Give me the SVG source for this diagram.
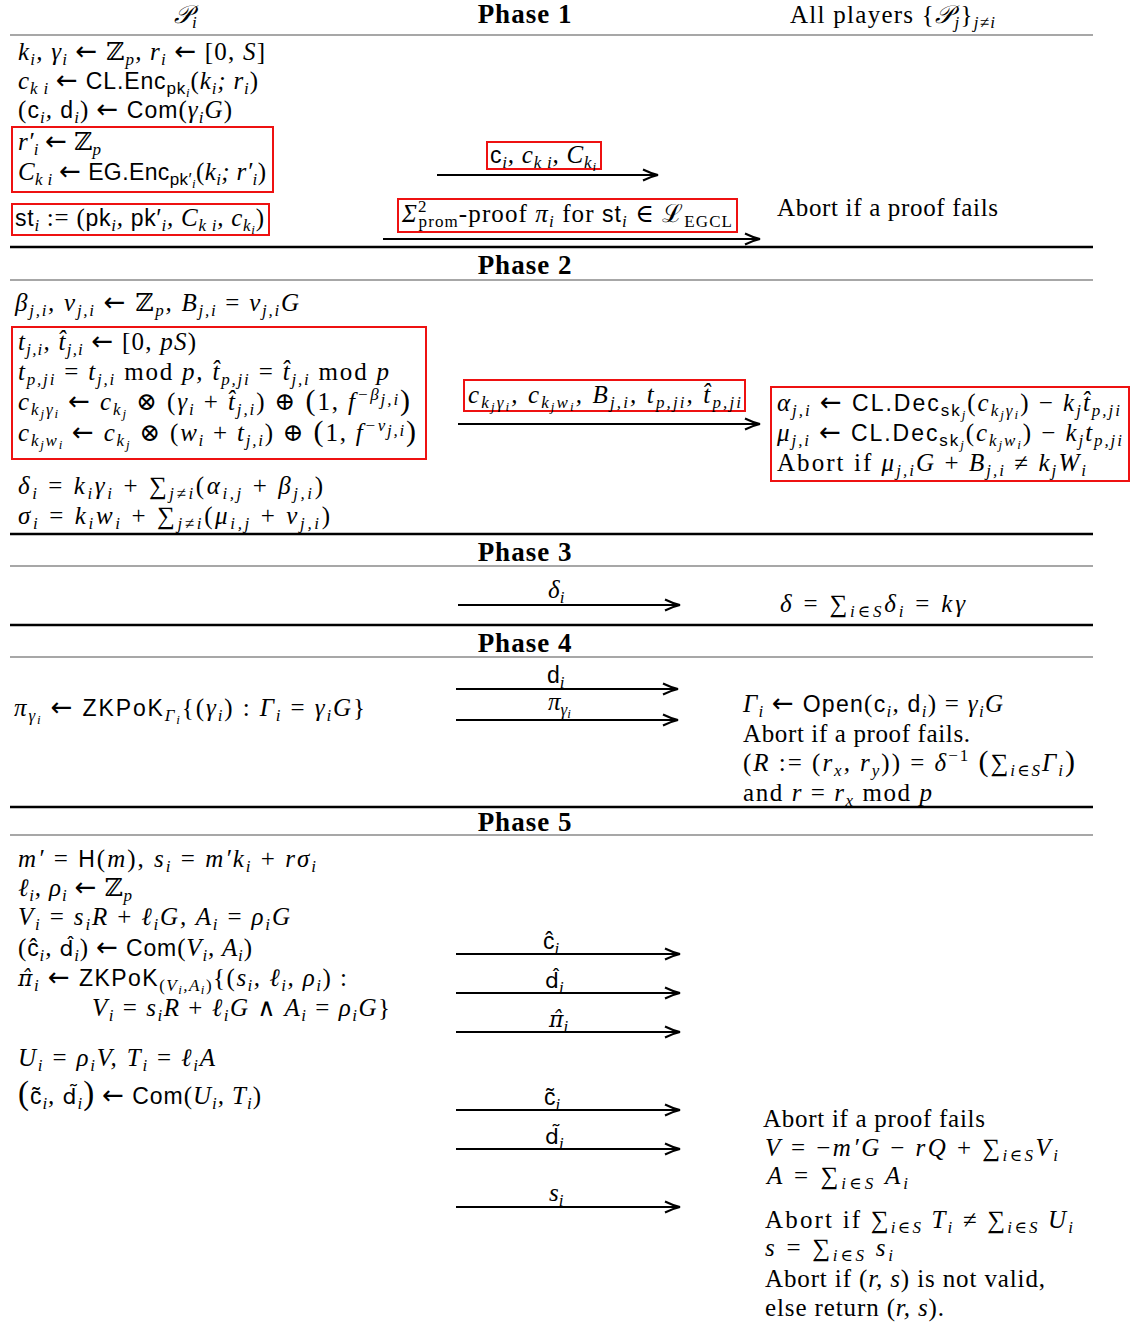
<svg xmlns="http://www.w3.org/2000/svg" width="1144" height="1324" viewBox="0 0 1144 1324">
<style>
text { font-family: "Liberation Serif", "DejaVu Serif", serif; font-size: 25px; font-style: italic; fill: #000; }
.up { font-style: normal; }
.sf { font-family: "Liberation Sans", "DejaVu Sans", sans-serif; font-style: normal; }
.S { font-size: 23px; }
.dj { font-family: "DejaVu Sans", sans-serif; font-style: normal; font-size: 22px; }
.djs { font-family: "DejaVu Serif", serif; font-style: italic; font-size: 22px; }
.b { font-size: 17px; baseline-shift: -5px; }
.b .b { font-size: 13px; baseline-shift: -3px; }
.p { font-size: 17px; baseline-shift: 10px; }
.ar { font-family: "DejaVu Sans", sans-serif; font-style: normal; font-size: 26px; }
.hd { font-style: normal; font-weight: bold; font-size: 27px; text-anchor: middle; letter-spacing: 1px; }
.big { font-size: 30px; font-style: normal; }
.bg2 { font-size: 33px; font-style: normal; }
.red { fill: none; stroke: #ee1111; stroke-width: 2; }
.gray { stroke: #8a8a8a; stroke-width: 1.5; }
.blk { stroke: #000; stroke-width: 2.5; }
.arr { stroke: #000; stroke-width: 2; marker-end: url(#ah); }
</style>
<defs>
<marker id="ah" markerWidth="20" markerHeight="14" refX="18" refY="7" orient="auto" markerUnits="userSpaceOnUse">
<path d="M3,1.5 Q11,5.5 18,7 Q11,8.5 3,12.5" fill="none" stroke="#000" stroke-width="2"/>
</marker>
</defs>

<g id="rules">
<line class="gray" x1="10" y1="35" x2="1093" y2="35"/>
<line class="blk" x1="10" y1="247" x2="1093" y2="247"/>
<line class="gray" x1="10" y1="280" x2="1093" y2="280"/>
<line class="blk" x1="10" y1="534" x2="1093" y2="534"/>
<line class="gray" x1="10" y1="566" x2="1093" y2="566"/>
<line class="blk" x1="10" y1="625" x2="1093" y2="625"/>
<line class="gray" x1="10" y1="657" x2="1093" y2="657"/>
<line class="blk" x1="10" y1="807" x2="1093" y2="807"/>
<line class="gray" x1="10" y1="835" x2="1093" y2="835"/>
</g>

<g id="headers">
<text x="174" y="23">𝒫<tspan class="b">i</tspan></text>
<text class="hd" x="525" y="23">Phase 1</text>
<text x="790" y="23" textLength="205" lengthAdjust="spacing"><tspan class="up">All players {</tspan>𝒫<tspan class="b">j</tspan><tspan class="up">}</tspan><tspan class="b">j≠i</tspan></text>
<text class="hd" x="525" y="274">Phase 2</text>
<text class="hd" x="525" y="561">Phase 3</text>
<text class="hd" x="525" y="652">Phase 4</text>
<text class="hd" x="525" y="831">Phase 5</text>
</g>

<g id="connectors">
<line class="arr" x1="437" y1="175" x2="658" y2="175"/>
<line class="arr" x1="383" y1="239" x2="760" y2="239"/>
<line class="arr" x1="458" y1="424" x2="760" y2="424"/>
<line class="arr" x1="458" y1="605" x2="680" y2="605"/>
<line class="arr" x1="456" y1="689" x2="678" y2="689"/>
<line class="arr" x1="456" y1="720" x2="678" y2="720"/>
<line class="arr" x1="456" y1="954" x2="680" y2="954"/>
<line class="arr" x1="456" y1="993" x2="680" y2="993"/>
<line class="arr" x1="456" y1="1032" x2="680" y2="1032"/>
<line class="arr" x1="456" y1="1110" x2="680" y2="1110"/>
<line class="arr" x1="456" y1="1149" x2="680" y2="1149"/>
<line class="arr" x1="456" y1="1207" x2="680" y2="1207"/>
</g>

<g id="phase1-left">
<text x="18" y="60" textLength="247" lengthAdjust="spacing">k<tspan class="b">i</tspan>, γ<tspan class="b">i</tspan> <tspan class="ar">←</tspan> <tspan class="up">ℤ</tspan><tspan class="b">p</tspan>, r<tspan class="b">i</tspan> <tspan class="ar">←</tspan> <tspan class="up">[0,  </tspan> S<tspan class="up">]</tspan></text>
<text x="18" y="89" textLength="240" lengthAdjust="spacing">c<tspan class="b">k i</tspan> <tspan class="ar">←</tspan> <tspan class="sf S">CL.Enc</tspan><tspan class="b"><tspan class="sf">pk</tspan><tspan class="b">i</tspan></tspan><tspan class="up">(</tspan>k<tspan class="b">i</tspan>; r<tspan class="b">i</tspan><tspan class="up">)</tspan></text>
<text x="18" y="118" textLength="214" lengthAdjust="spacing"><tspan class="up">(</tspan><tspan class="sf S">c</tspan><tspan class="b">i</tspan>, <tspan class="sf S">d</tspan><tspan class="b">i</tspan><tspan class="up">)</tspan> <tspan class="ar">←</tspan> <tspan class="sf S">Com</tspan><tspan class="up">(</tspan>γ<tspan class="b">i</tspan>G<tspan class="up">)</tspan></text>
</g>
<g id="phase1-box1">
<rect class="red" x="12" y="127" width="261" height="65"/>
<text x="18" y="150" textLength="83" lengthAdjust="spacing">r′<tspan class="b">i</tspan> <tspan class="ar">←</tspan> <tspan class="up">ℤ</tspan><tspan class="b">p</tspan></text>
<text x="18" y="180" textLength="248" lengthAdjust="spacing">C<tspan class="b">k i</tspan> <tspan class="ar">←</tspan> <tspan class="sf S">EG.Enc</tspan><tspan class="b"><tspan class="sf">pk′</tspan><tspan class="b">i</tspan></tspan><tspan class="up">(</tspan>k<tspan class="b">i</tspan>; r′<tspan class="b">i</tspan><tspan class="up">)</tspan></text>
</g>
<g id="phase1-box2">
<rect class="red" x="12" y="204" width="257" height="31"/>
<text x="15" y="226" textLength="249" lengthAdjust="spacing"><tspan class="sf S">st</tspan><tspan class="b">i</tspan> <tspan class="up">:= (</tspan><tspan class="sf S">pk</tspan><tspan class="b">i</tspan>, <tspan class="sf S">pk′</tspan><tspan class="b">i</tspan>, C<tspan class="b">k i</tspan>, c<tspan class="b">k<tspan class="b">i</tspan></tspan><tspan class="up">)</tspan></text>
</g>
<g id="phase1-msg1">
<rect class="red" x="487" y="142" width="114" height="27"/>
<text x="490" y="163" textLength="106" lengthAdjust="spacing"><tspan class="sf S">c</tspan><tspan class="b">i</tspan>, c<tspan class="b">k i</tspan>, C<tspan class="b">k<tspan class="b">i</tspan></tspan></text>
</g>
<g id="phase1-msg2">
<rect class="red" x="398" y="199" width="339" height="33"/>
<text x="402" y="222" textLength="330" lengthAdjust="spacing">Σ<tspan class="p up">2</tspan><tspan class="b up" dx="-9">prom</tspan><tspan class="up">-proof </tspan>π<tspan class="b">i</tspan><tspan class="up"> for </tspan><tspan class="sf S">st</tspan><tspan class="b">i</tspan><tspan class="up"> ∈ ℒ</tspan><tspan class="b up">EGCL</tspan></text>
</g>
<g id="phase1-right">
<text class="up" x="777" y="216" textLength="221" lengthAdjust="spacing">Abort if a proof fails</text>
</g>

<g id="phase2-left">
<text x="15" y="311" textLength="284" lengthAdjust="spacing">β<tspan class="b">j,i</tspan>, v<tspan class="b">j,i</tspan> <tspan class="ar">←</tspan> <tspan class="up">ℤ</tspan><tspan class="b">p</tspan>, B<tspan class="b">j,i</tspan> <tspan class="up">=</tspan> v<tspan class="b">j,i</tspan>G</text>
<text x="18" y="494" textLength="305" lengthAdjust="spacing">δ<tspan class="b">i</tspan> <tspan class="up">=</tspan> k<tspan class="b">i</tspan>γ<tspan class="b">i</tspan> <tspan class="up">+ ∑</tspan><tspan class="b">j≠i</tspan><tspan class="up">(</tspan>α<tspan class="b">i,j</tspan> <tspan class="up">+</tspan> β<tspan class="b">j,i</tspan><tspan class="up">)</tspan></text>
<text x="18" y="524" textLength="312" lengthAdjust="spacing">σ<tspan class="b">i</tspan> <tspan class="up">=</tspan> k<tspan class="b">i</tspan>w<tspan class="b">i</tspan> <tspan class="up">+ ∑</tspan><tspan class="b">j≠i</tspan><tspan class="up">(</tspan>μ<tspan class="b">i,j</tspan> <tspan class="up">+</tspan> v<tspan class="b">j,i</tspan><tspan class="up">)</tspan></text>
</g>
<g id="phase2-box">
<rect class="red" x="12" y="327" width="414" height="132"/>
<text x="18" y="350" textLength="178" lengthAdjust="spacing">t<tspan class="b">j,i</tspan>, t̂<tspan class="b">j,i</tspan> <tspan class="ar">←</tspan> <tspan class="up">[0, </tspan>pS<tspan class="up">)</tspan></text>
<text x="18" y="380" textLength="371" lengthAdjust="spacing">t<tspan class="b">p,ji</tspan> <tspan class="up">=</tspan> t<tspan class="b">j,i</tspan> <tspan class="up">mod </tspan>p, t̂<tspan class="b">p,ji</tspan> <tspan class="up">=</tspan> t̂<tspan class="b">j,i</tspan> <tspan class="up">mod </tspan>p</text>
<text x="18" y="410" textLength="392" lengthAdjust="spacing">c<tspan class="b">k<tspan class="b">j</tspan>γ<tspan class="b">i</tspan></tspan> <tspan class="ar">←</tspan> c<tspan class="b">k<tspan class="b">j</tspan></tspan> <tspan class="up">⊗ (</tspan>γ<tspan class="b">i</tspan> <tspan class="up">+</tspan> t̂<tspan class="b">j,i</tspan><tspan class="up">) ⊕ </tspan><tspan class="big">(</tspan><tspan class="up">1, </tspan>f<tspan class="p">−β<tspan class="b">j,i</tspan></tspan><tspan class="big">)</tspan></text>
<text x="18" y="441" textLength="398" lengthAdjust="spacing">c<tspan class="b">k<tspan class="b">j</tspan>w<tspan class="b">i</tspan></tspan> <tspan class="ar">←</tspan> c<tspan class="b">k<tspan class="b">j</tspan></tspan> <tspan class="up">⊗ (</tspan>w<tspan class="b">i</tspan> <tspan class="up">+</tspan> t<tspan class="b">j,i</tspan><tspan class="up">) ⊕ </tspan><tspan class="big">(</tspan><tspan class="up">1, </tspan>f<tspan class="p">−v<tspan class="b">j,i</tspan></tspan><tspan class="big">)</tspan></text>
</g>
<g id="phase2-msg">
<rect class="red" x="464" y="380" width="281" height="31"/>
<text x="468" y="403" textLength="273" lengthAdjust="spacing">c<tspan class="b">k<tspan class="b">j</tspan>γ<tspan class="b">i</tspan></tspan>, c<tspan class="b">k<tspan class="b">j</tspan>w<tspan class="b">i</tspan></tspan>, B<tspan class="b">j,i</tspan>, t<tspan class="b">p,ji</tspan>, t̂<tspan class="b">p,ji</tspan></text>
</g>
<g id="phase2-right">
<rect class="red" x="771" y="387" width="358" height="94"/>
<text x="777" y="411" textLength="343" lengthAdjust="spacing">α<tspan class="b">j,i</tspan> <tspan class="ar">←</tspan> <tspan class="sf S">CL.Dec</tspan><tspan class="b"><tspan class="sf">sk</tspan><tspan class="b">j</tspan></tspan><tspan class="up">(</tspan>c<tspan class="b">k<tspan class="b">j</tspan>γ<tspan class="b">i</tspan></tspan><tspan class="up">) −</tspan> k<tspan class="b">j</tspan>t̂<tspan class="b">p,ji</tspan></text>
<text x="777" y="441" textLength="345" lengthAdjust="spacing">μ<tspan class="b">j,i</tspan> <tspan class="ar">←</tspan> <tspan class="sf S">CL.Dec</tspan><tspan class="b"><tspan class="sf">sk</tspan><tspan class="b">j</tspan></tspan><tspan class="up">(</tspan>c<tspan class="b">k<tspan class="b">j</tspan>w<tspan class="b">i</tspan></tspan><tspan class="up">) −</tspan> k<tspan class="b">j</tspan>t<tspan class="b">p,ji</tspan></text>
<text x="777" y="471" textLength="309" lengthAdjust="spacing"><tspan class="up">Abort if </tspan>μ<tspan class="b">j,i</tspan>G <tspan class="up">+</tspan> B<tspan class="b">j,i</tspan> <tspan class="up">≠</tspan> k<tspan class="b">j</tspan>W<tspan class="b">i</tspan></text>
</g>

<g id="phase3">
<text x="548" y="598">δ<tspan class="b">i</tspan></text>
<text x="780" y="612" textLength="185" lengthAdjust="spacing">δ <tspan class="up">= ∑</tspan><tspan class="b">i∈S</tspan>δ<tspan class="b">i</tspan> <tspan class="up">=</tspan> kγ</text>
</g>

<g id="phase4-left">
<text x="14" y="716" textLength="351" lengthAdjust="spacing">π<tspan class="b">γ<tspan class="b">i</tspan></tspan> <tspan class="ar">←</tspan> <tspan class="sf S">ZKPoK</tspan><tspan class="b">Γ<tspan class="b">i</tspan></tspan><tspan class="up">{(</tspan>γ<tspan class="b">i</tspan><tspan class="up">) : </tspan>Γ<tspan class="b">i</tspan> <tspan class="up">=</tspan> γ<tspan class="b">i</tspan>G<tspan class="up">}</tspan></text>
</g>
<g id="phase4-msgs">
<text x="547" y="683"><tspan class="sf S">d</tspan><tspan class="b">i</tspan></text>
<text x="548" y="710">π<tspan class="b">γ<tspan class="b">i</tspan></tspan></text>
</g>
<g id="phase4-right">
<text x="743" y="712" textLength="260" lengthAdjust="spacing">Γ<tspan class="b">i</tspan> <tspan class="ar">←</tspan> <tspan class="sf S">Open</tspan><tspan class="up">(</tspan><tspan class="sf S">c</tspan><tspan class="b">i</tspan>, <tspan class="sf S">d</tspan><tspan class="b">i</tspan><tspan class="up">) =</tspan> γ<tspan class="b">i</tspan>G</text>
<text class="up" x="743" y="742" textLength="227" lengthAdjust="spacing">Abort if a proof fails.</text>
<text x="743" y="771" textLength="332" lengthAdjust="spacing"><tspan class="up">(</tspan>R <tspan class="up">:= (</tspan>r<tspan class="b">x</tspan>, r<tspan class="b">y</tspan><tspan class="up">)) =</tspan> δ<tspan class="p up">−1</tspan> <tspan class="big">(</tspan><tspan class="up">∑</tspan><tspan class="b">i∈S</tspan>Γ<tspan class="b">i</tspan><tspan class="big">)</tspan></text>
<text x="743" y="801" textLength="189" lengthAdjust="spacing"><tspan class="up">and </tspan>r <tspan class="up">=</tspan> r<tspan class="b">x</tspan> <tspan class="up">mod </tspan>p</text>
</g>

<g id="phase5-left">
<text x="18" y="867" textLength="298" lengthAdjust="spacing">m′ <tspan class="up">=</tspan> <tspan class="sf S">H</tspan><tspan class="up">(</tspan>m<tspan class="up">), </tspan>s<tspan class="b">i</tspan> <tspan class="up">=</tspan> m′k<tspan class="b">i</tspan> <tspan class="up">+</tspan> rσ<tspan class="b">i</tspan></text>
<text x="18" y="896" textLength="114" lengthAdjust="spacing">ℓ<tspan class="b">i</tspan>, ρ<tspan class="b">i</tspan> <tspan class="ar">←</tspan> <tspan class="up">ℤ</tspan><tspan class="b">p</tspan></text>
<text x="18" y="925" textLength="272" lengthAdjust="spacing">V<tspan class="b">i</tspan> <tspan class="up">=</tspan> s<tspan class="b">i</tspan>R <tspan class="up">+</tspan> ℓ<tspan class="b">i</tspan>G, A<tspan class="b">i</tspan> <tspan class="up">=</tspan> ρ<tspan class="b">i</tspan>G</text>
<text x="18" y="956" textLength="234" lengthAdjust="spacing"><tspan class="up">(</tspan><tspan class="sf S">ĉ</tspan><tspan class="b">i</tspan>, <tspan class="dj">d̂</tspan><tspan class="b">i</tspan><tspan class="up">)</tspan> <tspan class="ar">←</tspan> <tspan class="sf S">Com</tspan><tspan class="up">(</tspan>V<tspan class="b">i</tspan>, A<tspan class="b">i</tspan><tspan class="up">)</tspan></text>
<text x="18" y="986" textLength="329" lengthAdjust="spacing"><tspan class="djs">π̂</tspan><tspan class="b">i</tspan> <tspan class="ar">←</tspan> <tspan class="sf S">ZKPoK</tspan><tspan class="b"><tspan class="up">(</tspan>V<tspan class="b">i</tspan>,A<tspan class="b">i</tspan><tspan class="up">)</tspan></tspan><tspan class="up">{(</tspan>s<tspan class="b">i</tspan>, ℓ<tspan class="b">i</tspan>, ρ<tspan class="b">i</tspan><tspan class="up">) :</tspan></text>
<text x="92" y="1016" textLength="298" lengthAdjust="spacing">V<tspan class="b">i</tspan> <tspan class="up">=</tspan> s<tspan class="b">i</tspan>R <tspan class="up">+</tspan> ℓ<tspan class="b">i</tspan>G <tspan class="up">∧</tspan> A<tspan class="b">i</tspan> <tspan class="up">=</tspan> ρ<tspan class="b">i</tspan>G<tspan class="up">}</tspan></text>
<text x="18" y="1066" textLength="197" lengthAdjust="spacing">U<tspan class="b">i</tspan> <tspan class="up">=</tspan> ρ<tspan class="b">i</tspan>V, T<tspan class="b">i</tspan> <tspan class="up">=</tspan> ℓ<tspan class="b">i</tspan>A</text>
<text x="18" y="1104" textLength="243" lengthAdjust="spacing"><tspan class="bg2">(</tspan><tspan class="sf S">c̃</tspan><tspan class="b">i</tspan>, <tspan class="dj">d̃</tspan><tspan class="b">i</tspan><tspan class="bg2">)</tspan> <tspan class="ar">←</tspan> <tspan class="sf S">Com</tspan><tspan class="up">(</tspan>U<tspan class="b">i</tspan>, T<tspan class="b">i</tspan><tspan class="up">)</tspan></text>
</g>
<g id="phase5-msgs">
<text x="543" y="949"><tspan class="sf S">ĉ</tspan><tspan class="b">i</tspan></text>
<text x="545" y="988"><tspan class="dj">d̂</tspan><tspan class="b">i</tspan></text>
<text x="549" y="1027"><tspan class="djs">π̂</tspan><tspan class="b">i</tspan></text>
<text x="544" y="1105"><tspan class="sf S">c̃</tspan><tspan class="b">i</tspan></text>
<text x="545" y="1144"><tspan class="dj">d̃</tspan><tspan class="b">i</tspan></text>
<text x="549" y="1201">s<tspan class="b">i</tspan></text>
</g>
<g id="phase5-right">
<text class="up" x="763" y="1127" textLength="222" lengthAdjust="spacing">Abort if a proof fails</text>
<text x="765" y="1156" textLength="293" lengthAdjust="spacing">V <tspan class="up">= −</tspan>m′G <tspan class="up">−</tspan> rQ <tspan class="up">+ ∑</tspan><tspan class="b">i∈S</tspan>V<tspan class="b">i</tspan></text>
<text x="767" y="1184" textLength="141" lengthAdjust="spacing">A <tspan class="up">= ∑</tspan><tspan class="b">i∈S</tspan> A<tspan class="b">i</tspan></text>
<text x="765" y="1228" textLength="308" lengthAdjust="spacing"><tspan class="up">Abort if ∑</tspan><tspan class="b">i∈S</tspan> T<tspan class="b">i</tspan> <tspan class="up">≠ ∑</tspan><tspan class="b">i∈S</tspan> U<tspan class="b">i</tspan></text>
<text x="765" y="1256" textLength="128" lengthAdjust="spacing">s <tspan class="up">= ∑</tspan><tspan class="b">i∈S</tspan> s<tspan class="b">i</tspan></text>
<text x="765" y="1287" textLength="280" lengthAdjust="spacing"><tspan class="up">Abort if (</tspan>r, s<tspan class="up">) is not valid,</tspan></text>
<text x="765" y="1316" textLength="179" lengthAdjust="spacing"><tspan class="up">else return (</tspan>r, s<tspan class="up">).</tspan></text>
</g>
</svg>
